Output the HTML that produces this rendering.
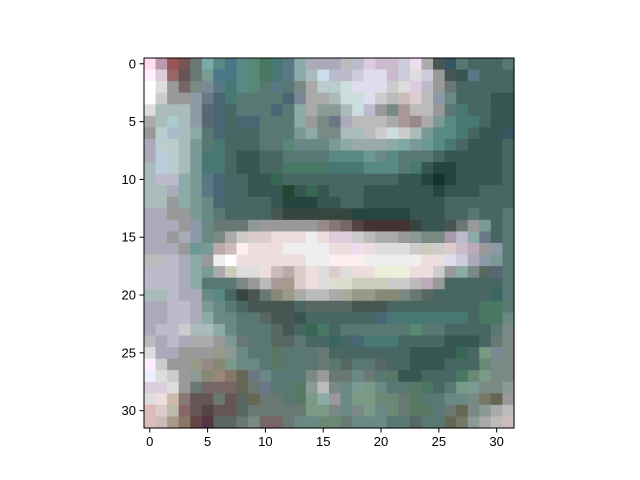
<!DOCTYPE html>
<html><head><meta charset="utf-8"><style>
html,body{margin:0;padding:0;background:#fff;}
svg{display:block;font-family:"Liberation Sans","DejaVu Sans",sans-serif;}
</style></head><body>
<svg id="chart" width="640" height="480" viewBox="0 0 640 480" xmlns="http://www.w3.org/2000/svg">
<rect width="640" height="480" fill="#fff"/>
<g id="cells"></g>
<rect x="144" y="58" width="370" height="370" fill="none" stroke="#000" stroke-width="1"/>
<g id="xticks"></g>
<g id="yticks"></g>
</svg>
<script>
const rows = [
"fde b9a 955 755 666 799 577 467 577 576 465 466 567 899 aab aab aab bbb bbc dcd cbc cbc ccd ede aaa 444 345 566 455 455 455 566",
"fef dcd 966 655 666 788 467 467 577 576 465 466 567 899 abb cde bbc bbc ccd dde dde cbc ccd ddd ccd 999 444 344 567 455 455 455",
"fff ddd 999 766 777 778 567 466 577 576 566 567 566 777 aaa bcc bcc cdd dde dde dde ccc ddd dcd bbc 999 666 455 455 455 455 455",
"fff ccc 999 999 889 667 456 466 566 566 566 566 456 778 aaa aaa abb cdd cdd dde ccc bbb cbb dcc bbb 889 677 455 455 455 344 344",
"ddd abb abb abb 889 556 456 455 566 566 566 456 566 899 aaa 888 888 abb cdd bbc 999 777 a99 bbb bbb 999 566 466 455 455 344 344",
"aaa abb acc abb 889 556 456 455 456 456 566 566 566 899 999 777 667 aab bbb bbb bbb aaa a99 988 aaa 788 577 466 466 455 344 344",
"999 bcc abc abb 899 566 456 455 455 455 566 566 566 788 899 777 777 abb abb bbb ccc cdd ccc abb 788 577 577 466 455 344 344 345",
"aab bcc bcc abb 788 566 466 455 455 455 566 566 576 677 677 677 788 899 9aa 9aa 9aa 899 799 788 688 577 466 455 344 344 344 455",
"aab bcd bcc abb 788 466 466 455 344 344 455 455 566 566 566 566 577 577 577 688 677 577 566 566 566 455 344 344 344 344 344 455",
"abb bcd bcc abb 788 466 466 455 344 344 455 455 465 465 465 465 466 466 466 577 577 577 566 466 344 233 233 344 344 344 344 455",
"abb bbc bbc 899 788 567 456 455 455 344 344 354 455 455 455 455 455 455 455 455 455 455 344 344 233 122 233 344 344 344 344 455",
"abb abb aab 899 788 567 456 455 455 344 344 344 232 344 354 344 455 455 455 344 344 344 344 344 344 233 344 344 344 455 455 455",
"abb abb 999 899 788 677 456 455 455 455 455 344 233 233 233 344 344 455 455 344 344 344 344 344 344 344 455 455 455 455 455 455",
"aab aab 999 999 788 677 566 455 455 455 455 444 333 333 333 333 333 333 233 233 233 233 233 344 344 344 455 455 566 455 455 566",
"aab aab aab 999 889 677 666 666 666 888 999 999 999 999 999 988 877 766 544 433 433 433 433 333 344 344 444 666 999 788 455 566",
"aab aab 999 aab 889 677 777 aaa ccc dcc dcc edd edd edd eee edd dcd dcd ccc bbb aaa aaa 999 888 777 777 a9a bbc 899 667 455 566",
"aab aab aab 999 688 788 baa cbb fee edd edd edd eee eee eee eee edd edd ede edd ddd ddd ddd ccc ccb ccc dcc cbc bab 999 889 566",
"bbb bbb bbc aab 899 999 eee fff edd edd edd edd edd edd eee eee fee fee fee eee eee eee eee eee edd edd dde ccd aab 889 788 566",
"bbc bbc bbc aab 899 788 aaa ccb ddd ddd edd cbb baa dcc edd ddd dcc ddd edd edd eed eed eed edd edd ccc 999 899 777 555 556 566",
"bbc bbc bbc aab 899 566 566 566 777 999 bbb a99 a98 dcc edd ddd ddc ddc ccb ccb ccb ccc ccc bbb bab 999 455 455 455 455 455 566",
"abb abb bbc aab aab 677 577 455 333 444 666 887 998 aaa bbb bbb aaa aa9 998 998 887 887 777 666 555 455 455 455 455 455 355 566",
"aab aab bbc bbc aab 788 677 566 455 444 444 444 444 455 555 555 555 555 444 444 444 455 455 455 455 455 455 455 455 465 465 566",
"aab aab bbc bbc aab 899 677 677 566 566 555 444 444 344 455 455 455 455 455 455 456 466 466 466 466 466 466 466 455 465 465 677",
"aab bbc bbc ccc abb abb 899 677 566 566 566 555 444 455 354 465 455 566 566 566 566 566 566 576 566 566 455 455 455 455 566 777",
"bbb aab bbc aab aaa aaa 999 788 666 566 566 555 555 566 455 455 355 455 456 466 466 466 455 455 455 455 344 344 344 455 666 777",
"ddd aab aab 999 999 999 998 888 677 566 566 565 566 566 566 666 455 455 455 455 455 455 455 344 344 344 344 354 455 787 778 777",
"fef ccc 999 999 998 988 887 787 677 677 566 565 566 566 566 666 566 555 566 566 555 455 455 344 344 344 455 455 455 676 777 777",
"eef ddd ccc 999 888 887 987 876 665 667 677 566 566 566 777 999 666 666 677 666 566 565 344 344 455 455 455 465 676 787 777 777",
"dcd dcd ddd 999 666 766 766 766 665 666 667 566 566 565 888 bbb 777 677 788 787 677 566 566 565 465 455 566 787 788 777 777 888",
"ddd edd cba 877 655 655 666 655 555 665 666 666 566 565 787 899 999 677 787 787 676 676 666 565 566 566 677 677 777 776 665 999",
"dbb dcc bba 866 655 544 655 655 555 666 666 666 666 666 787 787 777 677 777 787 677 676 666 565 565 566 666 665 777 888 aaa bbb",
"dbb cbb a98 876 644 534 555 555 666 777 766 766 666 677 677 676 676 666 677 677 677 566 566 555 566 566 665 776 888 aaa bbb cbb"
];
const xTickLabels = [0,5,10,15,20,25,30];
const yTickLabels = [0,5,10,15,20,25,30];
const NS = "http://www.w3.org/2000/svg";
const X0 = 144, Y0 = 58, W = 370, N = 32;
const cs = W / N;
const xPos = i => X0 + i * cs;
const yPos = j => Y0 + j * cs;
function tint(c) {
  let r = parseInt(c[0], 16) * 17, g = parseInt(c[1], 16) * 17, b = parseInt(c[2], 16) * 17;
  if (g >= r && b >= r && r < 140) { g += 18; b += 14; r += 4; }
  const h = v => Math.min(255, v).toString(16).padStart(2, '0');
  return '#' + h(r) + h(g) + h(b);
}
const cells = document.getElementById('cells');
rows.forEach((row, j) => {
  row.split(' ').forEach((c, i) => {
    const el = document.createElementNS(NS, 'rect');
    
    
    el.setAttribute('x', xPos(i));
    el.setAttribute('y', yPos(j));
    el.setAttribute('width', cs + 0.6);
    el.setAttribute('height', cs + 0.6);
    el.setAttribute('fill', tint(c));
    cells.appendChild(el);
  });
});
const xg = document.getElementById('xticks');
xTickLabels.forEach(v => {
  const x = xPos(v + 0.5);
  const t = document.createElementNS(NS, 'line');
  
  
  t.setAttribute('x1', x); t.setAttribute('x2', x);
  t.setAttribute('y1', Y0 + W); t.setAttribute('y2', Y0 + W + 4.5);
  t.setAttribute('stroke', '#000');
  xg.appendChild(t);
  const l = document.createElementNS(NS, 'text');
  
  
  l.setAttribute('x', x); l.setAttribute('y', Y0 + W + 18);
  l.setAttribute('text-anchor', 'middle');
  l.setAttribute('font-size', '13');
  l.textContent = v;
  xg.appendChild(l);
});
const yg = document.getElementById('yticks');
yTickLabels.forEach(v => {
  const y = yPos(v + 0.5);
  const t = document.createElementNS(NS, 'line');
  
  
  t.setAttribute('x1', X0 - 4.5); t.setAttribute('x2', X0);
  t.setAttribute('y1', y); t.setAttribute('y2', y);
  t.setAttribute('stroke', '#000');
  yg.appendChild(t);
  const l = document.createElementNS(NS, 'text');
  
  
  l.setAttribute('x', X0 - 8); l.setAttribute('y', y + 4.5);
  l.setAttribute('text-anchor', 'end');
  l.setAttribute('font-size', '13');
  l.textContent = v;
  yg.appendChild(l);
});
</script>
</body></html>
